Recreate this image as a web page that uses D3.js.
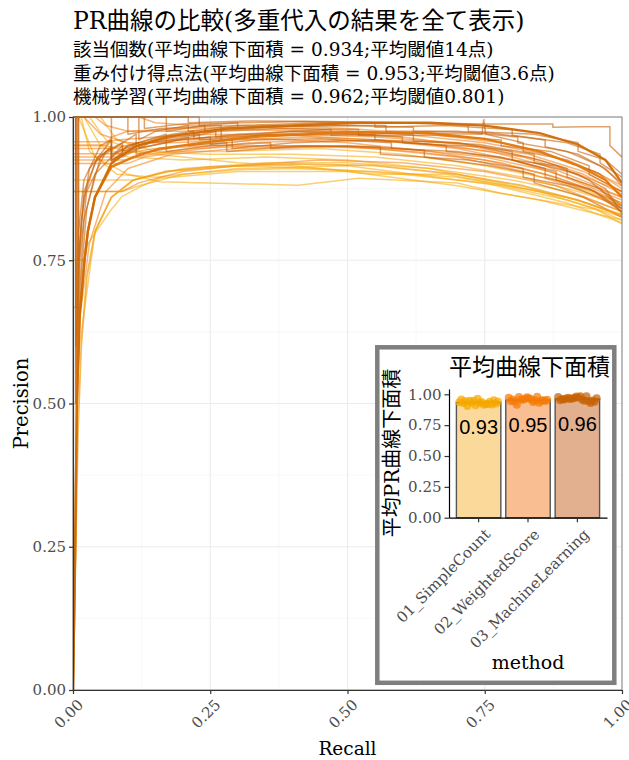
<!DOCTYPE html>
<html>
<head>
<meta charset="utf-8">
<script src="https://cdn.jsdelivr.net/npm/d3@7"></script>
<style>
  body { margin: 0; background: #fff; }
  svg { display: block; }
</style>
</head>
<body>
<svg id="chart" width="629" height="760"></svg>
<script>
// ---- Data -------------------------------------------------------------
const titleText = "PR曲線の比較(多重代入の結果を全て表示)";
const subtitleLines = [
  "該当個数(平均曲線下面積 = 0.934;平均閾値14点)",
  "重み付け得点法(平均曲線下面積 = 0.953;平均閾値3.6点)",
  "機械学習(平均曲線下面積 = 0.962;平均閾値0.801)"
];
const axisTicks = [0, 0.25, 0.5, 0.75, 1];
const minorTicks = [0.125, 0.375, 0.625, 0.875];

const methods = ["01_SimpleCount", "02_WeightedScore", "03_MachineLearning"];
const meanAuc = [0.934, 0.953, 0.962];

// AUC of each imputed data set
const aucSimpleCount = [0.935, 0.948, 0.921, 0.957, 0.912, 0.940, 0.929, 0.963, 0.918, 0.944,
                        0.931, 0.952, 0.905, 0.938, 0.926, 0.947, 0.915, 0.942, 0.933, 0.924];
const aucWeightedScore = [0.972, 0.955, 0.981, 0.944, 0.963, 0.932, 0.958, 0.976, 0.949, 0.941,
                          0.968, 0.952, 0.915, 0.960, 0.946, 0.978, 0.938, 0.955, 0.957, 0.950];
const aucMachineLearning = [0.978, 0.965, 0.984, 0.952, 0.970, 0.945, 0.961, 0.982, 0.930, 0.958,
                            0.975, 0.949, 0.967, 0.985, 0.940, 0.972, 0.956, 0.969, 0.962, 0.947];

// PR curves per imputed data set: [recall, precision]
const simpleCountCurves = [
  [[0,1],[0.02,1],[0.05,0.95],[0.1,0.93],[0.2,0.925],[0.35,0.93],[0.5,0.925],[0.65,0.91],[0.8,0.88],[0.9,0.86],[1,0.83]],
  [[0,0.75],[0.02,0.75],[0.028,0.78],[0.067,0.835],[0.089,0.861],[0.122,0.878],[0.158,0.893],[0.3,0.905],[0.5,0.905],[0.7,0.88],[0.85,0.855],[1,0.82]],
  [[0,0.89],[0.11,0.89],[0.17,0.905],[0.3,0.915],[0.45,0.91],[0.6,0.9],[0.75,0.885],[0.9,0.85],[1,0.815]],
  [[0,1],[0.01,1],[0.04,0.93],[0.1,0.9],[0.158,0.887],[0.41,0.881],[0.52,0.893],[0.7,0.885],[0.78,0.867],[0.954,0.838],[1,0.814]],
  [[0,0.87],[0.089,0.87],[0.12,0.88],[0.2,0.9],[0.3,0.908],[0.4,0.91],[0.55,0.905],[0.7,0.895],[0.85,0.87],[0.95,0.84],[1,0.82]],
  [[0,1],[0.03,1],[0.06,0.96],[0.12,0.94],[0.25,0.935],[0.4,0.935],[0.55,0.93],[0.7,0.915],[0.82,0.895],[0.92,0.87],[1,0.845]],
  [[0,0.5],[0.005,0.5],[0.012,0.6],[0.04,0.8],[0.07,0.86],[0.11,0.89],[0.2,0.91],[0.35,0.92],[0.5,0.92],[0.65,0.91],[0.8,0.89],[0.9,0.87],[1,0.835]],
  [[0,1],[0.05,1],[0.08,0.96],[0.15,0.94],[0.28,0.94],[0.45,0.945],[0.6,0.935],[0.75,0.915],[0.88,0.89],[1,0.85]],
  [[0,0.95],[0.06,0.95],[0.1,0.94],[0.2,0.93],[0.3,0.92],[0.4,0.915],[0.55,0.9],[0.68,0.9],[0.82,0.875],[0.92,0.855],[1,0.828]],
  [[0,1],[0.015,1],[0.03,0.94],[0.08,0.9],[0.15,0.895],[0.3,0.91],[0.5,0.915],[0.62,0.9],[0.78,0.88],[0.9,0.855],[1,0.826]]
];

const weightedScoreCurves = [
  [[0,0.957],[0.065,0.957],[0.08,0.96],[0.15,0.965],[0.25,0.97],[0.4,0.968],[0.55,0.96],[0.7,0.945],[0.8,0.925],[0.9,0.895],[1,0.86]],
  [[0,0.945],[0.07,0.945],[0.12,0.955],[0.2,0.96],[0.35,0.962],[0.5,0.955],[0.65,0.94],[0.78,0.92],[0.88,0.895],[0.95,0.87],[1,0.845]],
  [[0,0.936],[0.09,0.936],[0.15,0.945],[0.25,0.95],[0.4,0.95],[0.55,0.945],[0.7,0.93],[0.82,0.905],[0.92,0.875],[1,0.84]],
  [[0,0.925],[0.095,0.925],[0.14,0.935],[0.22,0.945],[0.35,0.95],[0.5,0.948],[0.62,0.94],[0.75,0.925],[0.86,0.9],[0.94,0.875],[1,0.85]],
  [[0,1],[0.04,1],[0.06,0.985],[0.1,0.975],[0.2,0.975],[0.3,0.978],[0.45,0.975],[0.6,0.965],[0.72,0.95],[0.85,0.925],[0.93,0.9],[1,0.865]],
  [[0,1],[0.12,1],[0.15,0.99],[0.22,0.985],[0.35,0.985],[0.5,0.98],[0.65,0.97],[0.78,0.955],[0.88,0.93],[0.96,0.9],[1,0.875]],
  [[0,0.87],[0.089,0.87],[0.12,0.885],[0.2,0.905],[0.3,0.915],[0.45,0.925],[0.6,0.92],[0.75,0.905],[0.88,0.88],[1,0.835]],
  [[0,0.668],[0.015,0.668],[0.03,0.78],[0.06,0.87],[0.1,0.91],[0.18,0.935],[0.3,0.945],[0.45,0.95],[0.6,0.945],[0.75,0.93],[0.87,0.905],[1,0.855]],
  [[0,0.919],[0.1,0.919],[0.13,0.93],[0.2,0.94],[0.32,0.955],[0.48,0.96],[0.62,0.955],[0.76,0.94],[0.86,0.915],[0.94,0.885],[1,0.86]],
  [[0,1],[0.02,1],[0.05,0.97],[0.1,0.955],[0.18,0.955],[0.3,0.96],[0.42,0.965],[0.56,0.96],[0.7,0.948],[0.82,0.93],[0.92,0.9],[1,0.87]],
  [[0,0.951],[0.06,0.951],[0.07,0.965],[0.1,0.975],[0.2,0.98],[0.3,0.982],[0.45,0.978],[0.6,0.97],[0.75,0.955],[0.86,0.935],[0.95,0.905],[1,0.88]],
  [[0,0.93],[0.08,0.93],[0.11,0.95],[0.18,0.96],[0.27,0.965],[0.4,0.97],[0.55,0.965],[0.7,0.955],[0.83,0.935],[0.93,0.905],[1,0.87]]
];

const machineLearningCurves = [
  [[0,1],[0.12,1],[0.12,0.96],[0.15,0.975],[0.21,0.985],[0.21,0.975],[0.3,0.985],[0.45,0.99],[0.6,0.99],[0.75,0.988],[0.874,0.988],[0.874,0.982],[0.93,0.983],[0.978,0.983],[0.978,0.95],[1,0.93]],
  [[0,1],[0.005,1],[0.005,0.5],[0.008,0.67],[0.015,0.82],[0.03,0.91],[0.07,0.96],[0.07,0.92],[0.1,0.95],[0.17,0.97],[0.17,0.955],[0.26,0.975],[0.26,0.965],[0.4,0.975],[0.55,0.97],[0.55,0.96],[0.7,0.955],[0.8,0.94],[0.8,0.925],[0.88,0.915],[0.94,0.89],[1,0.84]],
  [[0,1],[0.01,1],[0.01,0.6],[0.015,0.72],[0.025,0.84],[0.05,0.93],[0.115,0.97],[0.115,0.95],[0.2,0.97],[0.27,0.975],[0.27,0.96],[0.36,0.97],[0.5,0.975],[0.62,0.97],[0.62,0.958],[0.74,0.952],[0.84,0.935],[0.84,0.92],[0.92,0.9],[0.97,0.875],[1,0.83]],
  [[0,1],[0.07,1],[0.07,0.93],[0.1,0.95],[0.18,0.97],[0.22,0.975],[0.22,0.962],[0.3,0.97],[0.47,0.978],[0.47,0.968],[0.6,0.972],[0.745,0.97],[0.748,0.995],[0.752,0.97],[0.82,0.955],[0.82,0.94],[0.9,0.925],[0.96,0.9],[1,0.86]],
  [[0,1],[0.008,1],[0.008,0.55],[0.012,0.7],[0.02,0.82],[0.04,0.9],[0.09,0.95],[0.09,0.93],[0.14,0.955],[0.21,0.965],[0.21,0.95],[0.29,0.96],[0.29,0.945],[0.4,0.955],[0.55,0.96],[0.68,0.95],[0.68,0.94],[0.78,0.93],[0.88,0.905],[0.88,0.89],[0.95,0.87],[1,0.835]],
  [[0,1],[0.17,1],[0.17,0.975],[0.24,0.985],[0.24,0.975],[0.35,0.982],[0.5,0.985],[0.62,0.982],[0.62,0.975],[0.76,0.972],[0.86,0.96],[0.86,0.948],[0.92,0.935],[0.97,0.91],[1,0.88]],
  [[0,1],[0.005,1],[0.005,0.67],[0.01,0.8],[0.02,0.89],[0.05,0.95],[0.07,0.96],[0.07,0.935],[0.12,0.955],[0.12,0.945],[0.19,0.96],[0.25,0.965],[0.25,0.952],[0.33,0.96],[0.45,0.962],[0.58,0.955],[0.58,0.945],[0.7,0.94],[0.8,0.925],[0.86,0.91],[0.86,0.895],[0.94,0.875],[1,0.84]],
  [[0,1],[0.23,1],[0.23,0.985],[0.3,0.99],[0.42,0.992],[0.55,0.99],[0.55,0.982],[0.68,0.985],[0.8,0.978],[0.8,0.968],[0.9,0.955],[0.96,0.935],[0.96,0.92],[1,0.895]],
  [[0,1],[0.01,1],[0.01,0.75],[0.02,0.86],[0.04,0.92],[0.07,0.95],[0.07,0.925],[0.115,0.945],[0.17,0.955],[0.17,0.94],[0.25,0.95],[0.36,0.955],[0.36,0.945],[0.5,0.95],[0.64,0.942],[0.64,0.93],[0.76,0.915],[0.84,0.9],[0.84,0.885],[0.93,0.86],[1,0.825]],
  [[0,1],[0.1,1],[0.1,0.97],[0.16,0.98],[0.27,0.985],[0.27,0.975],[0.38,0.98],[0.52,0.978],[0.52,0.968],[0.66,0.968],[0.78,0.96],[0.78,0.95],[0.87,0.94],[0.94,0.915],[0.94,0.9],[1,0.87]],
  [[0,1],[0.005,1],[0.005,0.6],[0.01,0.75],[0.02,0.87],[0.045,0.93],[0.07,0.945],[0.07,0.925],[0.115,0.948],[0.115,0.935],[0.2,0.95],[0.28,0.955],[0.28,0.94],[0.42,0.95],[0.56,0.948],[0.56,0.935],[0.72,0.925],[0.82,0.91],[0.82,0.895],[0.9,0.88],[0.96,0.86],[1,0.835]],
  [[0,1],[0.21,1],[0.21,0.99],[0.32,0.993],[0.46,0.992],[0.6,0.99],[0.72,0.985],[0.72,0.975],[0.84,0.97],[0.92,0.955],[0.92,0.94],[0.97,0.925],[1,0.9]],
  [[0,1],[0.005,1],[0.005,0.5],[0.007,0.6],[0.012,0.75],[0.025,0.87],[0.06,0.94],[0.09,0.955],[0.09,0.94],[0.15,0.96],[0.23,0.97],[0.23,0.96],[0.34,0.968],[0.48,0.97],[0.6,0.965],[0.6,0.955],[0.74,0.948],[0.83,0.93],[0.9,0.91],[0.9,0.895],[0.96,0.875],[1,0.845]],
  [[0,1],[0.13,1],[0.13,0.98],[0.2,0.988],[0.3,0.99],[0.3,0.98],[0.43,0.985],[0.57,0.985],[0.57,0.975],[0.7,0.975],[0.81,0.965],[0.81,0.955],[0.9,0.94],[0.96,0.915],[1,0.885]]
];

// Averaged PR curve per method
const meanSimpleCount = [[0,0],[0.002,0.1],[0.005,0.25],[0.009,0.45],[0.015,0.6],[0.025,0.72],[0.04,0.8],[0.07,0.86],[0.11,0.89],[0.17,0.905],[0.25,0.913],[0.4,0.918],[0.55,0.915],[0.7,0.9],[0.82,0.88],[0.92,0.855],[1,0.828]];
const meanWeightedScore = [[0,0],[0.002,0.12],[0.004,0.25],[0.007,0.5],[0.012,0.65],[0.021,0.75],[0.027,0.8],[0.04,0.86],[0.07,0.913],[0.11,0.93],[0.158,0.945],[0.25,0.957],[0.34,0.966],[0.52,0.974],[0.65,0.972],[0.75,0.962],[0.85,0.94],[0.92,0.915],[0.97,0.89],[1,0.86]];
const meanMachineLearning = [[0,0],[0.002,0.12],[0.004,0.25],[0.007,0.5],[0.012,0.65],[0.021,0.75],[0.027,0.8],[0.04,0.86],[0.07,0.919],[0.112,0.948],[0.173,0.966],[0.282,0.98],[0.341,0.983],[0.523,0.99],[0.65,0.99],[0.75,0.985],[0.85,0.972],[0.92,0.952],[0.97,0.925],[1,0.885]];

// ---- Styling ----------------------------------------------------------
const lineColors = ["#F7A800", "#F27A0C", "#C8640A"];
const lineOpacity = [0.55, 0.55, 0.6];
const pointColors = ["#F5A800", "#F57A05", "#C86204"];
const barFills = ["#FAD99A", "#F9BF92", "#E2B08F"];
const serif = "'DejaVu Serif', 'Noto Sans CJK JP', serif";
const cjk = "'Noto Sans CJK JP', 'DejaVu Serif', sans-serif";

const svg = d3.select("#chart");
const panel = { left: 73, right: 622, top: 117, bottom: 690 };
const x = d3.scaleLinear().domain([0, 1]).range([panel.left, panel.right]);
const y = d3.scaleLinear().domain([0, 1]).range([panel.bottom, panel.top]);

// ---- Titles -----------------------------------------------------------
svg.append("text").attr("x", 73).attr("y", 29)
  .attr("font-family", serif).attr("font-size", 23.5).attr("fill", "#000")
  .text(titleText);
svg.selectAll("text.sub").data(subtitleLines).join("text")
  .attr("class", "sub").attr("x", 73).attr("y", (d, i) => 56 + i * 23.5)
  .attr("font-family", serif).attr("font-size", 18.5).attr("fill", "#000")
  .text(d => d);

// ---- Main panel grid --------------------------------------------------
const grid = svg.append("g");
function gridLines(vals, color, width) {
  grid.append("g").selectAll("line").data(vals).join("line")
    .attr("x1", d => x(d)).attr("x2", d => x(d))
    .attr("y1", panel.top).attr("y2", panel.bottom)
    .attr("stroke", color).attr("stroke-width", width);
  grid.append("g").selectAll("line").data(vals).join("line")
    .attr("y1", d => y(d)).attr("y2", d => y(d))
    .attr("x1", panel.left).attr("x2", panel.right)
    .attr("stroke", color).attr("stroke-width", width);
}
gridLines(minorTicks, "#f3f3f3", 0.6);
gridLines(axisTicks, "#ebebeb", 1.1);

svg.append("clipPath").attr("id", "panelClip").append("rect")
  .attr("x", panel.left).attr("y", panel.top - 1)
  .attr("width", panel.right - panel.left).attr("height", panel.bottom - panel.top + 1);

const curves = svg.append("g").attr("clip-path", "url(#panelClip)");
const line = d3.line().x(d => x(d[0])).y(d => y(d[1]));

[simpleCountCurves, weightedScoreCurves, machineLearningCurves].forEach((set, k) => {
  curves.append("g").selectAll("path").data(set).join("path")
    .attr("d", line).attr("fill", "none")
    .attr("stroke", lineColors[k]).attr("stroke-opacity", lineOpacity[k])
    .attr("stroke-width", 1.5).attr("stroke-linejoin", "round");
});
[meanSimpleCount, meanWeightedScore, meanMachineLearning].forEach((c, k) => {
  curves.append("path").datum(c).attr("d", line).attr("fill", "none")
    .attr("stroke", ["#F2A21C", "#E0780A", "#D06C06"][k])
    .attr("stroke-opacity", k === 0 ? 0.75 : 0.95)
    .attr("stroke-width", k === 0 ? 1.8 : 2.3).attr("stroke-linejoin", "round");
});

// panel border
svg.append("rect").attr("x", panel.left).attr("y", panel.top)
  .attr("width", panel.right - panel.left).attr("height", panel.bottom - panel.top)
  .attr("fill", "none").attr("stroke", "#777").attr("stroke-width", 0.9);

// ---- Main axes --------------------------------------------------------
function styleAxis(g, size) {
  g.select(".domain").attr("stroke", "#333").attr("stroke-width", 1.2);
  g.selectAll(".tick line").attr("stroke", "#333").attr("stroke-width", 1.2);
  g.selectAll(".tick text").attr("fill", "#4d4d4d")
    .attr("font-family", serif).attr("font-size", size);
}
const yAxis = svg.append("g").attr("transform", `translate(${panel.left},0)`)
  .call(d3.axisLeft(y).tickValues(axisTicks).tickFormat(d3.format(".2f")).tickSize(4).tickPadding(3).tickSizeOuter(0));
styleAxis(yAxis, 15);
const xAxis = svg.append("g").attr("transform", `translate(0,${panel.bottom})`)
  .call(d3.axisBottom(x).tickValues(axisTicks).tickFormat(d3.format(".2f")).tickSize(4).tickSizeOuter(0));
styleAxis(xAxis, 15);
xAxis.selectAll(".tick text")
  .attr("x", 0).attr("y", 0).attr("dy", "0.72em")
  .attr("transform", "translate(3,8) rotate(-45)")
  .attr("text-anchor", "end");

svg.append("text").attr("x", (panel.left + panel.right) / 2).attr("y", 755)
  .attr("text-anchor", "middle").attr("font-family", serif).attr("font-size", 18.5)
  .attr("fill", "#000").text("Recall");
svg.append("text").attr("transform", `translate(21,${(panel.top + panel.bottom) / 2}) rotate(-90)`)
  .attr("text-anchor", "middle").attr("dominant-baseline", "central")
  .attr("font-family", serif).attr("font-size", 19.5).attr("fill", "#000").text("Precision");

// ---- Inset bar chart --------------------------------------------------
const inset = svg.append("g");
inset.append("rect").attr("x", 377.3).attr("y", 347.3).attr("width", 237).attr("height", 335.5)
  .attr("fill", "#fff").attr("stroke", "#7f7f7f").attr("stroke-width", 4.5);

const ib = { left: 449, right: 607, top: 389, bottom: 517.7 };
const bx = d3.scaleBand().domain(methods).range([ib.left, ib.right])
  .paddingInner(0.1).paddingOuter(0.15);
const step = bx.step();
const by = d3.scaleLinear().domain([0, 1.043]).range([ib.bottom, ib.top]);

inset.append("g").selectAll("rect").data(methods).join("rect")
  .attr("x", d => bx(d)).attr("width", bx.bandwidth())
  .attr("y", (d, i) => by(meanAuc[i])).attr("height", (d, i) => by(0) - by(meanAuc[i]))
  .attr("fill", (d, i) => barFills[i]).attr("stroke", "#555").attr("stroke-width", 1.4);

const aucSets = [aucSimpleCount, aucWeightedScore, aucMachineLearning];
aucSets.forEach((vals, k) => {
  const cx = bx(methods[k]) + bx.bandwidth() / 2;
  inset.append("g").selectAll("circle").data(vals).join("circle")
    .attr("cx", (d, i) => cx + (((i * 7) % 20) / 19 - 0.5) * 0.78 * step)
    .attr("cy", d => by(d)).attr("r", 4)
    .attr("fill", pointColors[k]).attr("fill-opacity", 0.72);
});

inset.append("g").selectAll("text").data(methods).join("text")
  .attr("x", d => bx(d) + bx.bandwidth() / 2)
  .attr("y", (d, i) => by(meanAuc[i]) + 32)
  .attr("text-anchor", "middle")
  .attr("font-family", "'Liberation Sans', Arial, sans-serif").attr("font-size", 20)
  .attr("fill", "#000")
  .text((d, i) => meanAuc[i].toFixed(2));

const iy = inset.append("g").attr("transform", `translate(${ib.left},0)`)
  .call(d3.axisLeft(by).tickValues(axisTicks).tickFormat(d3.format(".2f")).tickSize(4.5).tickPadding(3).tickSizeOuter(0));
styleAxis(iy, 15);
iy.select(".domain").attr("stroke", "#000");
const ix = inset.append("g").attr("transform", `translate(0,${ib.bottom})`)
  .call(d3.axisBottom(bx).tickSize(4.5).tickSizeOuter(0));
styleAxis(ix, 15);
ix.select(".domain").attr("stroke", "#000");
ix.selectAll(".tick text")
  .attr("x", 0).attr("y", 0).attr("dy", "0.72em")
  .attr("transform", "translate(5,10) rotate(-45)")
  .attr("text-anchor", "end");

inset.append("text").attr("x", 610).attr("y", 375).attr("text-anchor", "end")
  .attr("font-family", cjk).attr("font-size", 23).attr("fill", "#000").text("平均曲線下面積");
inset.append("text").attr("transform", "translate(392,453) rotate(-90)")
  .attr("text-anchor", "middle").attr("dominant-baseline", "central")
  .attr("font-family", serif).attr("font-size", 20).attr("fill", "#000").text("平均PR曲線下面積");
inset.append("text").attr("x", (ib.left + ib.right) / 2).attr("y", 669)
  .attr("text-anchor", "middle").attr("font-family", serif).attr("font-size", 19)
  .attr("fill", "#000").text("method");
</script>
</body>
</html>
